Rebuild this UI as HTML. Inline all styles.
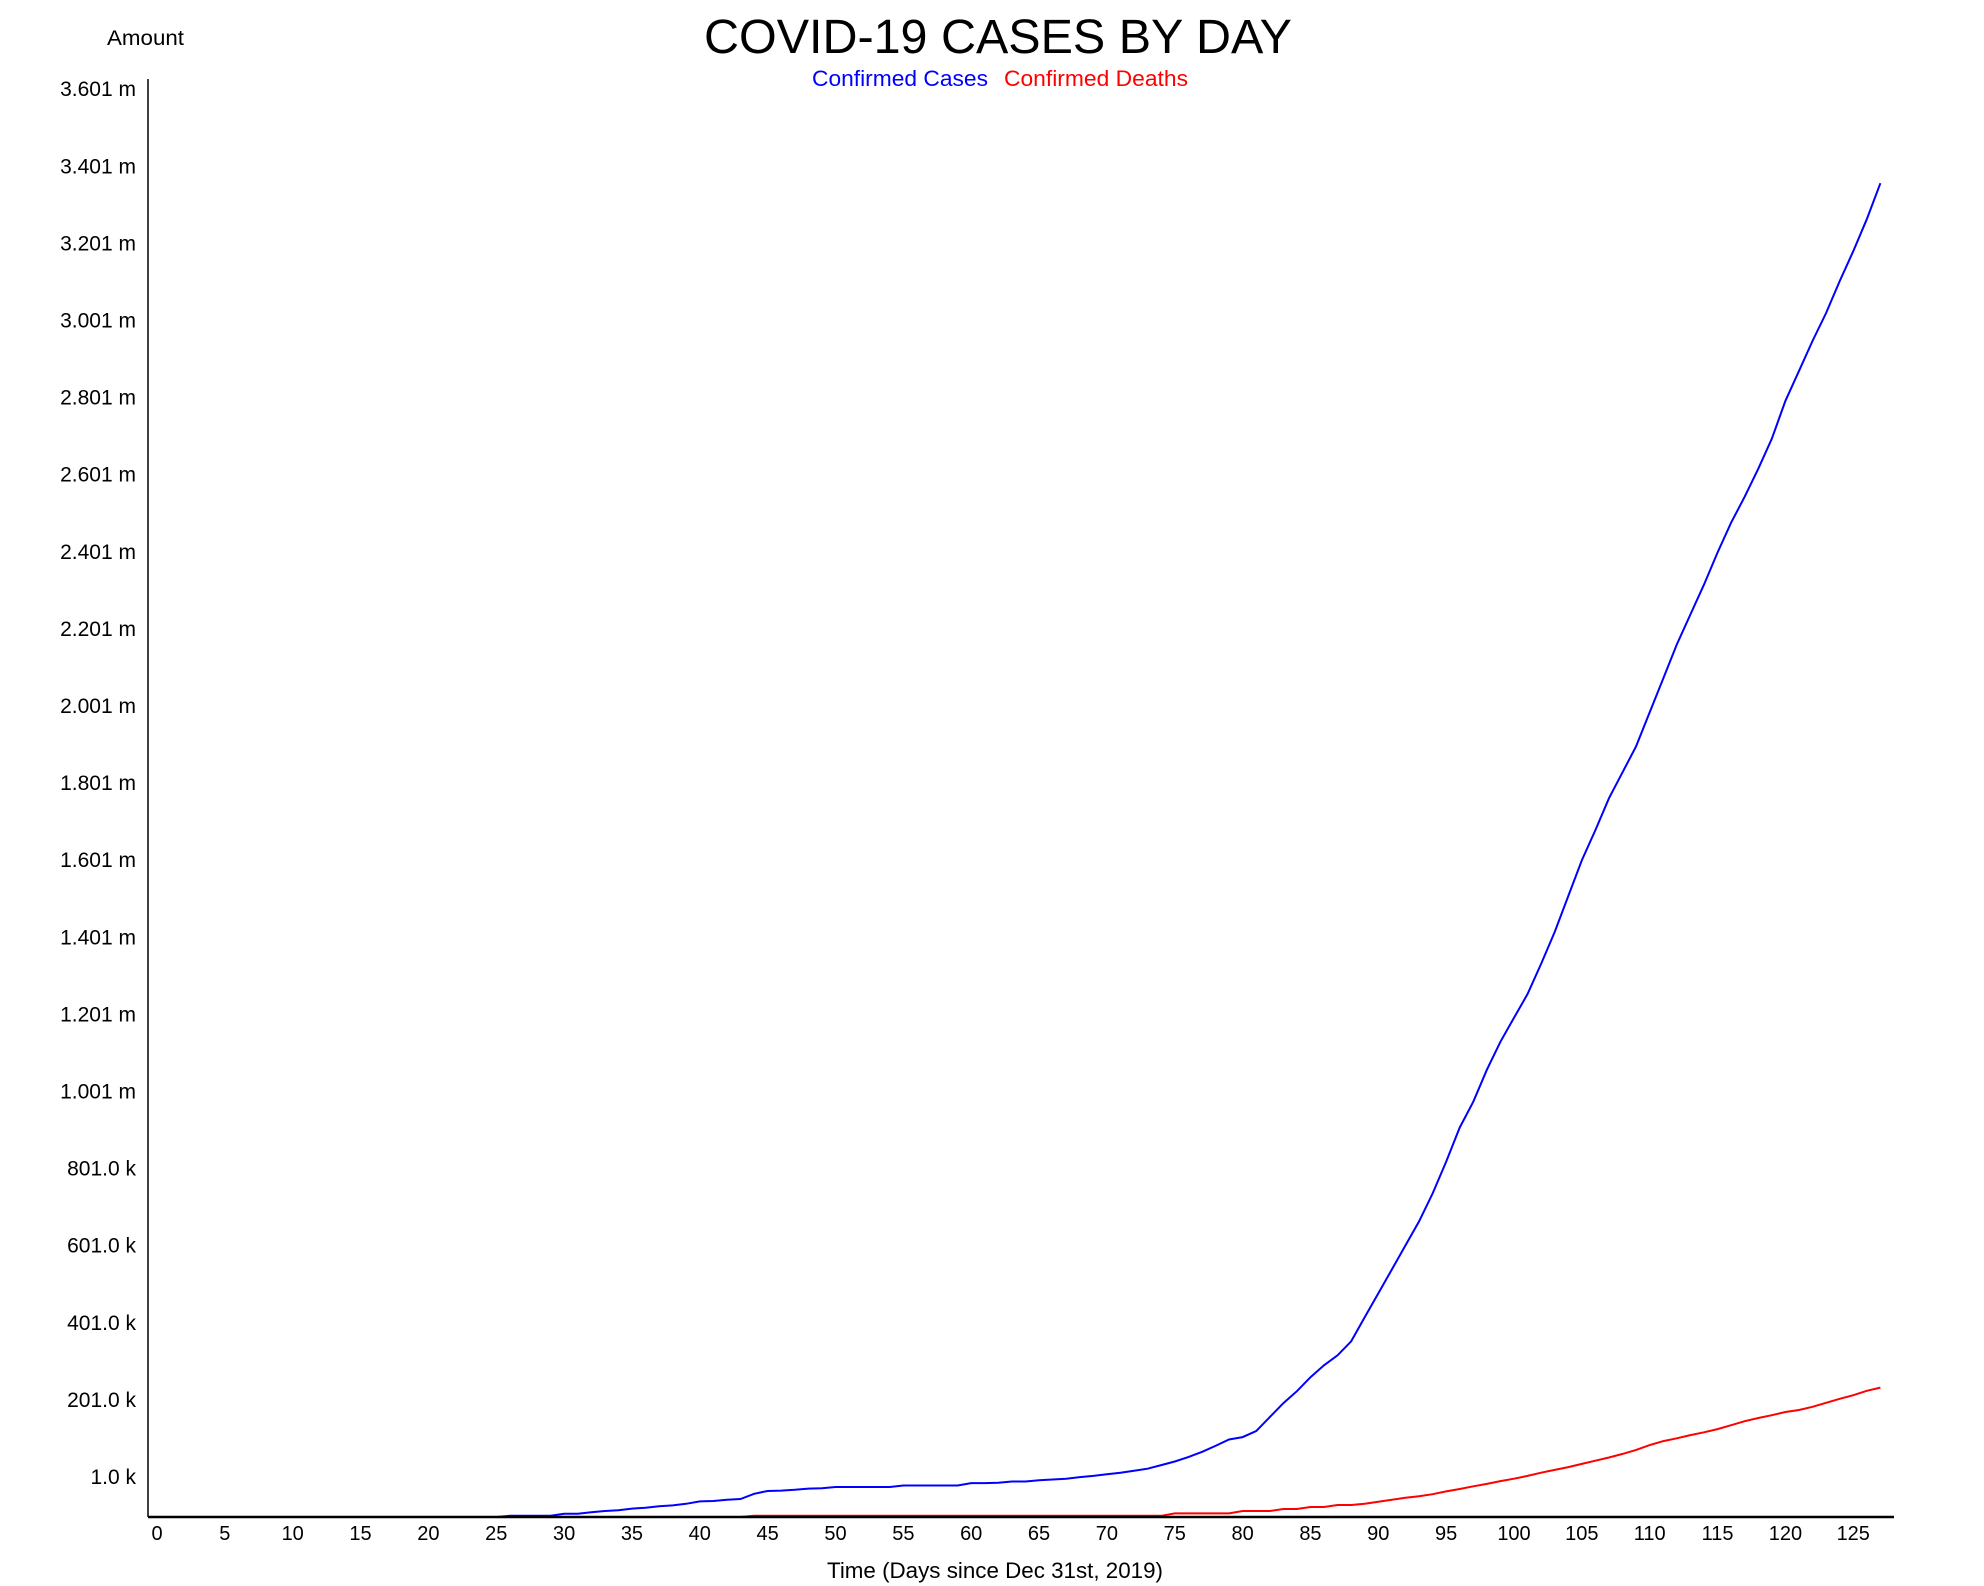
<!DOCTYPE html>
<html><head><meta charset="utf-8"><style>
html,body{margin:0;padding:0;background:#fff;}
svg{display:block;font-family:"Liberation Sans",Arial,sans-serif;}
</style></head><body>
<svg id="chart" width="1984" height="1586" viewBox="0 0 1984 1586">
<text x="998" y="53" font-size="48" text-anchor="middle" textLength="588" lengthAdjust="spacingAndGlyphs">COVID-19 CASES BY DAY</text>
<text x="812" y="86" font-size="22" fill="#0000ff" textLength="176" lengthAdjust="spacingAndGlyphs">Confirmed Cases</text>
<text x="1004" y="86" font-size="22" fill="#ff0000" textLength="184" lengthAdjust="spacingAndGlyphs">Confirmed Deaths</text>
<text x="107" y="45" font-size="21" textLength="77" lengthAdjust="spacingAndGlyphs">Amount</text>
<text x="995" y="1578" font-size="22" text-anchor="middle" textLength="336" lengthAdjust="spacingAndGlyphs">Time (Days since Dec 31st, 2019)</text>
<g id="ylabels"></g><g id="xlabels"></g><g id="series"></g>
<line x1="148" y1="79" x2="148" y2="1517" stroke="#000" stroke-width="1.5"/>
<line x1="148" y1="1517" x2="1894" y2="1517" stroke="#000" stroke-width="2.5"/>
</svg>
<script>
const yTickLabels = ["1.0 k","201.0 k","401.0 k","601.0 k","801.0 k","1.001 m","1.201 m","1.401 m","1.601 m","1.801 m","2.001 m","2.201 m","2.401 m","2.601 m","2.801 m","3.001 m","3.201 m","3.401 m","3.601 m"];
const xTickLabels = [0,5,10,15,20,25,30,35,40,45,50,55,60,65,70,75,80,85,90,95,100,105,110,115,120,125];
const casesK = [0,0,0,0,0,0,0,0,0,0,0,0,0,0,0,0,0,0,0,0,0,0,0,0,0,0,
3,3,3,3,8,8,12,15,17,21,23,27,29,33,39,40,43,45,58,65,66,68,71,72,75,75,75,75,75,79,79,79,79,79,85,85,86,89,89,92,94,96,100,103,107,111,116,121,130,139,150,163,178,194,200,215,250,285,315,350,380,405,440,500,560,620,680,740,810,890,975,1040,1120,1190,1250,1310,1385,1465,1555,1645,1720,1800,1865,1930,2015,2100,2185,2260,2335,2415,2490,2555,2625,2700,2795,2870,2945,3015,3095,3170,3250,3340];
const deathsK = [0,0,0,0,0,0,0,0,0,0,0,0,0,0,0,0,0,0,0,0,0,0,0,0,0,0,0,0,0,0,0,0,0,0,0,0,0,0,0,0,0,0,0,0,
3,3,3,3,3,3,3,3,3,3,3,3,3,3,3,3,3,3,3,3,3,3,3,3,3,3,3,3,3,3,3,9,9,9,9,9,15,15,15,20,20,25,25,30,30,33,38,43,48,52,57,64,70,77,83,90,96,103,111,118,125,133,141,149,158,168,180,190,197,205,212,220,230,240,248,255,263,268,276,286,296,305,316,324];
const NS="http://www.w3.org/2000/svg";
const xS = d => 157 + d*13.57;
const yS = vK => 1517 - vK/3601*1438;
const yl=document.getElementById('ylabels');
yTickLabels.forEach((t,i)=>{
  const e=document.createElementNS(NS,'text');
  e.setAttribute('x',136);e.setAttribute('y',1484 - i*77.1);
  e.setAttribute('font-size','21');e.setAttribute('text-anchor','end');
  e.textContent=t;
  
  
  yl.appendChild(e);
});
const xl=document.getElementById('xlabels');
xTickLabels.forEach(d=>{
  const e=document.createElementNS(NS,'text');
  e.setAttribute('x',xS(d));e.setAttribute('y',1540);
  e.setAttribute('font-size','20');e.setAttribute('text-anchor','middle');
  e.textContent=d;
  
  
  xl.appendChild(e);
});
const sg=document.getElementById('series');
function line(arr,color,name){
  const p=document.createElementNS(NS,'polyline');
  p.setAttribute('points',arr.map((v,i)=>xS(i).toFixed(1)+','+yS(v).toFixed(1)).join(' '));
  p.setAttribute('fill','none');p.setAttribute('stroke',color);p.setAttribute('stroke-width','2');
  
  
  sg.appendChild(p);
}
line(casesK,'#0000ff','confirmed-cases-line');
line(deathsK,'#ff0000','confirmed-deaths-line');
</script>
</body></html>
